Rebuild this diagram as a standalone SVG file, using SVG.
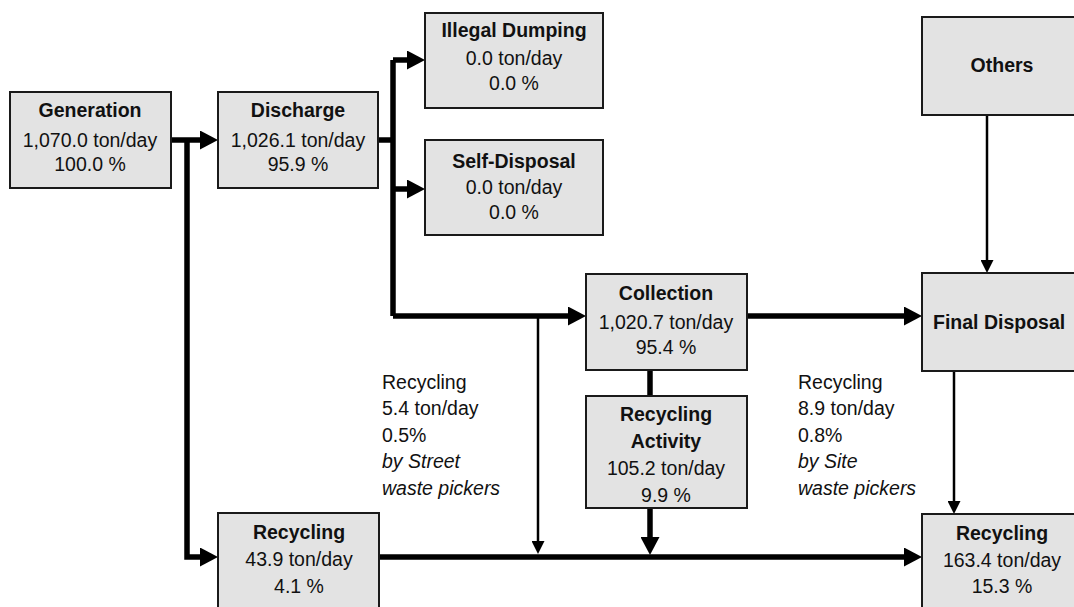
<svg xmlns="http://www.w3.org/2000/svg" width="1074" height="607" viewBox="0 0 1074 607">
<style>
.box{fill:#e3e3e3;stroke:#1a1a1a;stroke-width:2}
text{font-family:"Liberation Sans",Arial,sans-serif;font-size:19.5px;fill:#111}
.c{text-anchor:middle}
.b{font-weight:bold}
.i{font-style:italic}
.thick{fill:none;stroke:#000;stroke-width:5.5}
.thin{fill:none;stroke:#000;stroke-width:2.5}
</style>
<defs>
<marker id="ah" markerUnits="userSpaceOnUse" markerWidth="18" markerHeight="19" refX="8" refY="9.5" orient="auto"><path d="M0,0 L18,9.5 L0,19 z" fill="#000"/></marker>
<marker id="ahs" markerUnits="userSpaceOnUse" markerWidth="13" markerHeight="13" refX="8" refY="6.5" orient="auto"><path d="M0,0 L13,6.5 L0,13 z" fill="#000"/></marker>
</defs>
<rect width="1074" height="607" fill="#fff"/>
<g id="connectors">
<path class="thick" d="M171,140 H208" marker-end="url(#ah)"/>
<path class="thick" d="M187,140 V557 H208" marker-end="url(#ah)"/>
<path class="thick" d="M378,140 H393"/>
<path class="thick" d="M393,60 V316"/>
<path class="thick" d="M393,60 H415" marker-end="url(#ah)"/>
<path class="thick" d="M393,189 H415" marker-end="url(#ah)"/>
<path class="thick" d="M393,316 H576" marker-end="url(#ah)"/>
<path class="thick" d="M747,316 H912" marker-end="url(#ah)"/>
<path class="thin" d="M987,115 V268" marker-end="url(#ahs)"/>
<path class="thin" d="M954,371 V509" marker-end="url(#ahs)"/>
<path class="thick" d="M650,370 V396"/>
<path class="thick" d="M650,508 V545" marker-end="url(#ah)"/>
<path class="thin" d="M538,316 V549" marker-end="url(#ahs)"/>
<path class="thick" d="M379,557 H912" marker-end="url(#ah)"/>
</g>
<g id="generation">
<rect class="box" x="10" y="92" width="161" height="96"/>
<text class="c b" x="90" y="116.5">Generation</text>
<text class="c" x="90" y="146.5">1,070.0 ton/day</text>
<text class="c" x="90" y="171">100.0 %</text>
</g>
<g id="discharge">
<rect class="box" x="218" y="92" width="160" height="96"/>
<text class="c b" x="298" y="116.5">Discharge</text>
<text class="c" x="298" y="146.5">1,026.1 ton/day</text>
<text class="c" x="298" y="171">95.9 %</text>
</g>
<g id="illegal-dumping">
<rect class="box" x="425" y="13" width="178" height="95"/>
<text class="c b" x="514" y="36.5">Illegal Dumping</text>
<text class="c" x="514" y="65">0.0 ton/day</text>
<text class="c" x="514" y="90">0.0 %</text>
</g>
<g id="self-disposal">
<rect class="box" x="425" y="140" width="178" height="95"/>
<text class="c b" x="514" y="167.5">Self-Disposal</text>
<text class="c" x="514" y="193.5">0.0 ton/day</text>
<text class="c" x="514" y="218.5">0.0 %</text>
</g>
<g id="others">
<rect class="box" x="922" y="17" width="160" height="98"/>
<text class="c b" x="1002" y="72">Others</text>
</g>
<g id="collection">
<rect class="box" x="586" y="274" width="161" height="96"/>
<text class="c b" x="666" y="299.5">Collection</text>
<text class="c" x="666" y="328.5">1,020.7 ton/day</text>
<text class="c" x="666" y="353.5">95.4 %</text>
</g>
<g id="final-disposal">
<rect class="box" x="922" y="273" width="160" height="98"/>
<text class="b" x="933" y="328.5">Final Disposal</text>
</g>
<g id="recycling-activity">
<rect class="box" x="586" y="396" width="161" height="112"/>
<text class="c b" x="666" y="420.5">Recycling</text>
<text class="c b" x="666" y="447.5">Activity</text>
<text class="c" x="666" y="475">105.2 ton/day</text>
<text class="c" x="666" y="501.5">9.9 %</text>
</g>
<g id="recycling-left">
<rect class="box" x="218" y="513" width="161" height="110"/>
<text class="c b" x="299" y="539">Recycling</text>
<text class="c" x="299" y="566">43.9 ton/day</text>
<text class="c" x="299" y="592.5">4.1 %</text>
</g>
<g id="recycling-right">
<rect class="box" x="922" y="514" width="160" height="110"/>
<text class="c b" x="1002" y="539.5">Recycling</text>
<text class="c" x="1002" y="566.5">163.4 ton/day</text>
<text class="c" x="1002" y="592.5">15.3 %</text>
</g>
<g id="label-street">
<text x="382" y="388.5">Recycling</text>
<text x="382" y="415">5.4 ton/day</text>
<text x="382" y="441.5">0.5%</text>
<text class="i" x="382" y="468">by Street</text>
<text class="i" x="382" y="495">waste pickers</text>
</g>
<g id="label-site">
<text x="798" y="388.5">Recycling</text>
<text x="798" y="415">8.9 ton/day</text>
<text x="798" y="441.5">0.8%</text>
<text class="i" x="798" y="468">by Site</text>
<text class="i" x="798" y="495">waste pickers</text>
</g>
</svg>
